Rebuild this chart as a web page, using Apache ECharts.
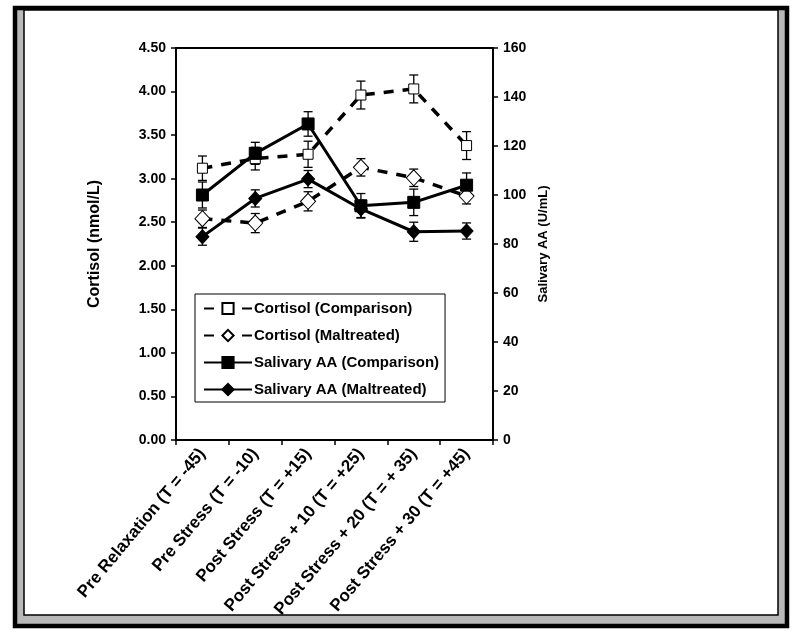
<!DOCTYPE html>
<html>
<head>
<meta charset="utf-8">
<script src="https://cdn.jsdelivr.net/npm/echarts@6/dist/echarts.min.js"></script>
<style>html,body{margin:0;padding:0;background:#fff;}#c{width:800px;height:636px;}</style>
</head>
<body>
<div id="c"></div>
<script>
var categories = ['Pre Relaxation (T = -45)', 'Pre Stress (T = -10)', 'Post Stress (T = +15)', 'Post Stress + 10 (T = +25)', 'Post Stress + 20 (T = + 35)', 'Post Stress + 30 (T = +45)'];
var cortisolComparison = [3.12, 3.23, 3.28, 3.96, 4.03, 3.38];
var cortisolComparisonErr = [0.14, 0.13, 0.15, 0.16, 0.16, 0.16];
var cortisolMaltreated = [2.54, 2.49, 2.74, 3.13, 3.01, 2.80];
var cortisolMaltreatedErr = [0.10, 0.11, 0.11, 0.10, 0.10, 0.09];
var aaComparison = [100, 117, 129, 95.6, 97, 104];
var aaComparisonErr = [5.3, 4.5, 5, 5, 5.4, 5];
var aaMaltreated = [83, 98.6, 106.5, 94.3, 85, 85.3];
var aaMaltreatedErr = [3.5, 3.5, 3.5, 3.5, 3.9, 3.3];
var leftTicks = {min: 0, max: 4.5, interval: 0.5};
var rightTicks = {min: 0, max: 160, interval: 20};

var FONT = 'Liberation Sans, Arial, sans-serif';

function errData(vals, errs) {
  return vals.map(function (v, i) { return [i, v - errs[i], v + errs[i]]; });
}
function errSeries(vals, errs, yIdx) {
  return {
    type: 'custom',
    yAxisIndex: yIdx,
    silent: true,
    z: 1,
    data: errData(vals, errs),
    renderItem: function (params, api) {
      var x = api.value(0);
      var lo = api.coord([x, api.value(1)]);
      var hi = api.coord([x, api.value(2)]);
      var w = 4.5;
      var st = {stroke: '#000', lineWidth: 1.3};
      return {
        type: 'group',
        children: [
          {type: 'line', shape: {x1: lo[0], y1: lo[1], x2: hi[0], y2: hi[1]}, style: st},
          {type: 'line', shape: {x1: lo[0] - w, y1: lo[1], x2: lo[0] + w, y2: lo[1]}, style: st},
          {type: 'line', shape: {x1: hi[0] - w, y1: hi[1], x2: hi[0] + w, y2: hi[1]}, style: st}
        ]
      };
    }
  };
}

var chart = echarts.init(document.getElementById('c'), null, {renderer: 'canvas'});
chart.setOption({
  animation: false,
  backgroundColor: '#fff',
  graphic: [
    {type: 'rect', z: -10, shape: {x: 15, y: 8, width: 772, height: 618},
     style: {fill: '#b8b8b8', stroke: '#000', lineWidth: 4.5}},
    {type: 'rect', z: -9, shape: {x: 24, y: 10, width: 754, height: 605},
     style: {fill: '#fff', stroke: '#000', lineWidth: 1.5}}
  ],
  grid: {left: 176, right: 307, top: 48, bottom: 196, show: true, borderColor: '#000', borderWidth: 2, backgroundColor: 'transparent'},
  legend: {
    left: 195, top: 294, width: 250,
    orient: 'vertical',
    backgroundColor: '#fff',
    borderColor: '#000', borderWidth: 1,
    padding: [7, 6, 5, 8],
    itemGap: 12,
    itemWidth: 48, itemHeight: 14,
    textStyle: {fontFamily: FONT, fontWeight: 'bold', fontSize: 15, color: '#000', padding: [0, 0, 0, -3]},
    data: ['Cortisol (Comparison)', 'Cortisol (Maltreated)', 'Salivary AA (Comparison)', 'Salivary AA (Maltreated)']
  },
  xAxis: {
    type: 'category',
    data: categories,
    boundaryGap: true,
    axisLine: {lineStyle: {color: '#000', width: 2}},
    axisTick: {show: true, length: 5, lineStyle: {color: '#000', width: 1.5}},
    axisLabel: {rotate: 50, interval: 0, fontFamily: FONT, fontWeight: 'bold', fontSize: 17, color: '#000', margin: 11},
    splitLine: {show: false}
  },
  yAxis: [
    {
      type: 'value', min: leftTicks.min, max: leftTicks.max, interval: leftTicks.interval,
      name: 'Cortisol (nmol/L)', nameLocation: 'middle', nameGap: 73,
      nameTextStyle: {fontFamily: FONT, fontWeight: 'bold', fontSize: 16, color: '#000'},
      axisLine: {show: true, lineStyle: {color: '#000', width: 2}},
      axisTick: {show: true, length: 5, lineStyle: {color: '#000', width: 1.5}},
      axisLabel: {fontFamily: FONT, fontWeight: 'bold', fontSize: 14, color: '#000', margin: 10,
        formatter: function (v) { return v.toFixed(2); }},
      splitLine: {show: false}
    },
    {
      type: 'value', min: rightTicks.min, max: rightTicks.max, interval: rightTicks.interval,
      position: 'right',
      name: 'Salivary AA (U/mL)', nameLocation: 'middle', nameGap: 44,
      nameTextStyle: {fontFamily: FONT, fontWeight: 'bold', fontSize: 13, color: '#000'},
      axisLine: {show: true, lineStyle: {color: '#000', width: 2}},
      axisTick: {show: true, length: 5, lineStyle: {color: '#000', width: 1.5}},
      axisLabel: {fontFamily: FONT, fontWeight: 'bold', fontSize: 14, color: '#000', margin: 10},
      splitLine: {show: false}
    }
  ],
  series: [
    errSeries(cortisolComparison, cortisolComparisonErr, 0),
    errSeries(cortisolMaltreated, cortisolMaltreatedErr, 0),
    errSeries(aaComparison, aaComparisonErr, 1),
    errSeries(aaMaltreated, aaMaltreatedErr, 1),
    {
      name: 'Cortisol (Comparison)', type: 'line', yAxisIndex: 0, z: 3,
      data: cortisolComparison,
      symbol: 'rect', symbolSize: 10,
      itemStyle: {color: '#fff', borderColor: '#000', borderWidth: 1},
      lineStyle: {color: '#000', width: 3.5, type: [10, 9]}
    },
    {
      name: 'Cortisol (Maltreated)', type: 'line', yAxisIndex: 0, z: 3,
      data: cortisolMaltreated,
      symbol: 'diamond', symbolSize: [15, 16],
      itemStyle: {color: '#fff', borderColor: '#000', borderWidth: 1},
      lineStyle: {color: '#000', width: 3.5, type: [10, 9]}
    },
    {
      name: 'Salivary AA (Comparison)', type: 'line', yAxisIndex: 1, z: 4,
      data: aaComparison,
      symbol: 'rect', symbolSize: 12,
      itemStyle: {color: '#000', borderColor: '#000', borderWidth: 1},
      lineStyle: {color: '#000', width: 3}
    },
    {
      name: 'Salivary AA (Maltreated)', type: 'line', yAxisIndex: 1, z: 4,
      data: aaMaltreated,
      symbol: 'diamond', symbolSize: [13, 14],
      itemStyle: {color: '#000', borderColor: '#000', borderWidth: 1},
      lineStyle: {color: '#000', width: 3}
    }
  ]
});
</script>
</body>
</html>
